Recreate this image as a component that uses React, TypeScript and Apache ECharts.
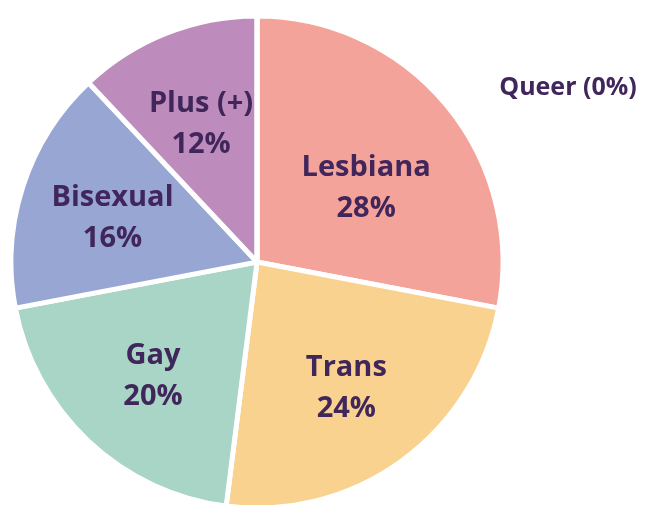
import React, { useEffect, useRef } from "react";
import * as echarts from "echarts";

const categories = ["Lesbiana", "Trans", "Gay", "Bisexual", "Plus (+)", "Queer"];
const values = [28, 24, 20, 16, 12, 0];
const colors = ["#f4a39a", "#f9d290", "#a8d5c5", "#98a6d4", "#bd8cbc", "#b5a0d0"];

const textColor = "#40265a";
const fontFamily = "'Open Sans', Lato, sans-serif";

export default function App() {
  const ref = useRef<HTMLDivElement>(null);
  useEffect(() => {
    if (!ref.current) return;
    const chart = echarts.init(ref.current, null, { renderer: "svg" });
    const pieData = categories.map((c, i) => ({
      name: c,
      value: values[i],
      itemStyle: { color: colors[i] },
    }));
    const labelData = categories.map((c, i) => ({
      name: c,
      value: values[i],
      label:
        values[i] === 0
          ? {
              show: true,
              position: "outside" as const,
              formatter: "{b} ({c}%)",
              fontSize: 25,
            }
          : { show: true },
    }));
    chart.setOption({
      animation: false,
      series: [
        {
          type: "pie",
          center: [257, 262],
          radius: [0, 246],
          startAngle: 90,
          clockwise: true,
          silent: true,
          stillShowZeroSum: true,
          itemStyle: { borderColor: "#ffffff", borderWidth: 5 },
          label: { show: false },
          labelLine: { show: false },
          data: pieData,
        },
        {
          type: "pie",
          center: [257, 262],
          radius: [0, 298],
          startAngle: 90,
          clockwise: true,
          silent: true,
          minShowLabelAngle: 0,
          itemStyle: { color: "rgba(0,0,0,0)", borderWidth: 0 },
          labelLine: { show: false },
          label: {
            show: true,
            position: "inside",
            formatter: "{b}\n{c}%",
            color: textColor,
            fontFamily,
            fontWeight: "bold",
            fontSize: 29,
            lineHeight: 41,
            align: "center",
          },
          labelLayout: (params: any) => {
            if (params.dataIndex === 5) {
              return { x: 568, y: 85, align: "center", verticalAlign: "middle" };
            }
            if (params.dataIndex === 0) {
              return { dx: -8, dy: 20 };
            }
            return {};
          },
          data: labelData,
        },
      ],
    });
    return () => chart.dispose();
  }, []);
  return (
    <div
      ref={ref}
      style={{ position: "fixed", left: 0, top: 0, width: 645, height: 505 }}
    />
  );
}
